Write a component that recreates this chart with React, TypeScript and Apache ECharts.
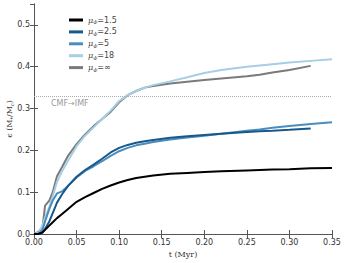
import React, { useEffect, useRef } from "react";
import * as echarts from "echarts";

const times = [0, 0.005, 0.01, 0.013, 0.018, 0.022, 0.027, 0.033, 0.04, 0.05, 0.06, 0.07, 0.08, 0.09, 0.1, 0.11, 0.12, 0.13, 0.14, 0.16, 0.18, 0.2, 0.22, 0.25, 0.265, 0.28, 0.3, 0.325, 0.35];

const mu15 = [0, 0, 0.004, 0.01, 0.02, 0.028, 0.038, 0.048, 0.06, 0.077, 0.088, 0.098, 0.108, 0.116, 0.123, 0.129, 0.134, 0.137, 0.14, 0.144, 0.146, 0.148, 0.15, 0.152, 0.153, 0.154, 0.155, 0.157, 0.158];
const mu25 = [0, 0, 0.003, 0.012, 0.03, 0.05, 0.075, 0.095, 0.115, 0.137, 0.153, 0.166, 0.18, 0.195, 0.206, 0.213, 0.218, 0.222, 0.225, 0.23, 0.234, 0.237, 0.24, 0.244, 0.246, 0.247, 0.249, 0.252, null];
const mu5 = [0, 0, 0.01, 0.03, 0.06, 0.08, 0.097, 0.102, 0.115, 0.135, 0.151, 0.162, 0.174, 0.187, 0.198, 0.206, 0.212, 0.216, 0.22, 0.226, 0.231, 0.235, 0.24, 0.247, 0.25, 0.254, 0.258, 0.263, 0.267];
const mu18 = [0, 0.003, 0.02, 0.04, 0.065, 0.09, 0.125, 0.15, 0.175, 0.21, 0.235, 0.255, 0.275, 0.295, 0.318, 0.332, 0.342, 0.35, 0.356, 0.365, 0.375, 0.385, 0.392, 0.4, 0.403, 0.406, 0.41, 0.414, 0.418];
const muInf = [0, 0.005, 0.015, 0.068, 0.08, 0.1, 0.138, 0.16, 0.187, 0.215, 0.238, 0.258, 0.275, 0.292, 0.315, 0.332, 0.342, 0.35, 0.354, 0.36, 0.364, 0.368, 0.372, 0.377, 0.381, 0.386, 0.392, 0.402, null];

const seriesNames = ["1.5", "2.5", "5", "18", "∞"];
const seriesValues = [mu15, mu25, mu5, mu18, muInf];
const seriesColors = ["#000000", "#18598c", "#4a8dbd", "#a6cfe5", "#7a7a7a"];

const cmfImf = 0.33;

export default function App() {
  const ref = useRef<HTMLDivElement>(null);
  useEffect(() => {
    if (!ref.current) return;
    document.body.style.margin = "0";
    const chart = echarts.init(ref.current, null, { renderer: "svg" });
    const axisLine = { show: true, lineStyle: { color: "#555", width: 1 } };
    const tick = { show: true, inside: true, length: 4, lineStyle: { color: "#555" } };
    const labelStyle = { fontSize: 8, color: "#333", fontFamily: "DejaVu Sans" };
    chart.setOption({
      animation: false,
      backgroundColor: "#fff",
      grid: { left: 34, right: 12, top: 4, bottom: 29, containLabel: false, outerBoundsMode: "none" },
      legend: {
        orient: "vertical",
        left: 64,
        top: 11,
        itemWidth: 14,
        itemHeight: 3,
        itemGap: 3.4,
        icon: "rect",
        textStyle: {
          fontSize: 8,
          color: "#444",
          fontFamily: "DejaVu Sans",
          rich: {
            m: { fontSize: 8, color: "#444", fontFamily: "DejaVu Serif", fontStyle: "italic" },
            s: { fontSize: 5, color: "#444", fontFamily: "DejaVu Serif", fontStyle: "italic", padding: [4, 0, 0, 0] },
            v: { fontSize: 8, color: "#444", fontFamily: "DejaVu Sans" },
          },
        },
        formatter: (name: string) => `{m|μ}{s|Φ}{v|=${name}}`,
        data: seriesNames,
      },
      xAxis: [
        {
          type: "value",
          min: 0,
          max: 0.35,
          interval: 0.05,
          axisLine,
          axisTick: tick,
          splitLine: { show: false },
          axisLabel: { ...labelStyle, margin: 4, formatter: (v: number) => v.toFixed(2) },
          name: "t (Myr)",
          nameLocation: "middle",
          nameGap: 16,
          nameMoveOverlap: false,
          nameTextStyle: { fontSize: 8, color: "#333", fontFamily: "DejaVu Serif" },
        },
        {
          type: "value",
          position: "top",
          min: 0,
          max: 0.35,
          interval: 0.05,
          axisLine,
          axisTick: tick,
          splitLine: { show: false },
          axisLabel: { show: false },
        },
      ],
      yAxis: [
        {
          type: "value",
          min: 0,
          max: 0.55,
          interval: 0.1,
          axisLine,
          axisTick: tick,
          splitLine: { show: false },
          axisLabel: { ...labelStyle, margin: 4, showMaxLabel: false, formatter: (v: number) => v.toFixed(1) },
          name: "{a|ϵ (M}{s|*}{a|/M}{s|c}{a|)}",
          nameLocation: "middle",
          nameGap: 20,
          nameMoveOverlap: false,
          nameRotate: 90,
          nameTextStyle: {
            fontSize: 8,
            color: "#333",
            fontFamily: "DejaVu Serif",
            rich: {
              a: { fontSize: 8, color: "#333", fontFamily: "DejaVu Serif" },
              s: { fontSize: 5, color: "#333", fontFamily: "DejaVu Serif", padding: [4, 0, 0, 0] },
            },
          },
        },
        {
          type: "value",
          position: "right",
          min: 0,
          max: 0.55,
          interval: 0.1,
          axisLine,
          axisTick: tick,
          splitLine: { show: false },
          axisLabel: { show: false },
        },
      ],
      graphic: [
        {
          type: "text",
          left: 51,
          top: 99,
          style: { text: "CMF→IMF", fontSize: 8, fill: "#999", fontFamily: "DejaVu Sans" },
        },
      ],
      series: seriesNames.map((n, i) => ({
        name: n,
        type: "line",
        xAxisIndex: 0,
        yAxisIndex: 0,
        showSymbol: false,
        symbol: "none",
        smooth: false,
        connectNulls: false,
        z: i === 0 ? 6 : 5 - i + 1,
        lineStyle: { color: seriesColors[i], width: 2 },
        itemStyle: { color: seriesColors[i] },
        data: times.map((t, j) => [t, seriesValues[i][j]]),
        markLine:
          i === 0
            ? {
                silent: true,
                symbol: "none",
                label: { show: false },
                lineStyle: { type: "dotted", color: "#aaa", width: 1 },
                data: [{ yAxis: cmfImf }],
              }
            : undefined,
      })),
    });
    return () => chart.dispose();
  }, []);
  return <div ref={ref} style={{ position: "fixed", left: 0, top: 0, width: 344, height: 263 }} />;
}
